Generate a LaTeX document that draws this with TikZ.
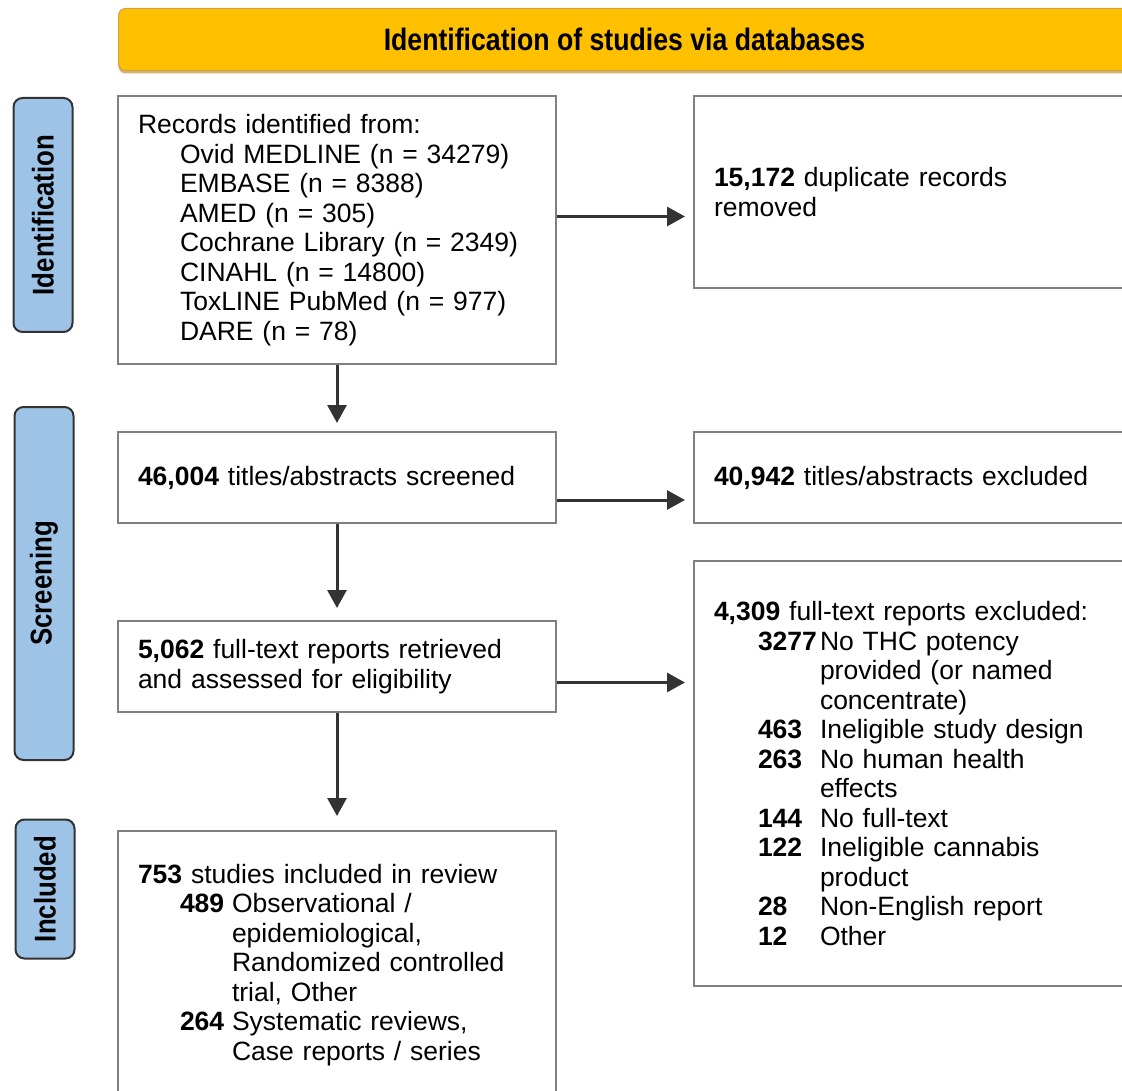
\documentclass[tikz,border=0pt]{standalone}
\usepackage{fontspec}
\setmainfont{Liberation Sans}
\newfontfamily\narrowfont[FakeStretch=0.86]{Liberation Sans}
\usetikzlibrary{arrows.meta, shadows}

\definecolor{bannerfill}{HTML}{FFC000}
\definecolor{bannershade}{HTML}{C9A24A}
\definecolor{stagefill}{HTML}{9DC3E6}
\definecolor{boxline}{HTML}{808080}
\definecolor{arrowline}{HTML}{333333}

\tikzset{
    box/.style={draw=boxline, line width=2pt, anchor=north west, align=left,
        inner xsep=20pt, inner ysep=0pt, font=\fontsize{26.5}{29.5}\selectfont},
    stage/.style={draw=black!80, line width=2pt, fill=stagefill, rounded corners=9pt,
        rotate=90, minimum height=59pt, inner sep=0pt,
        font=\narrowfont\bfseries\fontsize{30}{32}\selectfont},
    flow/.style={-{Triangle[length=18pt,width=19pt]}, line width=3pt, draw=arrowline, fill=black},
}

\begin{document}
\begin{tikzpicture}[x=1pt, y=-1pt]
        \useasboundingbox (0,0) rectangle (1122,1091);

        % Banner
        \node[draw=bannershade, line width=1pt, fill=bannerfill, rounded corners=7pt,
            anchor=north west, minimum width=1012pt, minimum height=62pt,
            drop shadow={shadow xshift=0pt, shadow yshift=-3pt, fill=bannershade, opacity=0.8},
            font=\narrowfont\bfseries\fontsize{31}{33}\selectfont] (banner) at (118,8)
            {Identification of studies via databases};

        % Stage labels
        \node[stage, minimum width=234pt] (idstage) at (43,215) {Identification};
        \node[stage, minimum width=353pt] (scrstage) at (44,583.5) {Screening};
        \node[stage, minimum width=139pt] (incstage) at (45,889) {Included};

        % Identification
        \node[box, text width=398pt, minimum height=268pt] (records) at (117,95)
            {Records identified from:\\
             \hspace*{42pt}Ovid MEDLINE (n = 34279)\\
             \hspace*{42pt}EMBASE (n = 8388)\\
             \hspace*{42pt}AMED (n = 305)\\
             \hspace*{42pt}Cochrane Library (n = 2349)\\
             \hspace*{42pt}CINAHL (n = 14800)\\
             \hspace*{42pt}ToxLINE PubMed (n = 977)\\
             \hspace*{42pt}DARE (n = 78)};
        \node[box, text width=398pt, minimum height=192pt] (dup) at (693,95)
            {\textbf{15,172} duplicate records\\removed};

        % Screening
        \node[box, text width=398pt, minimum height=91pt] (titles) at (117,431)
            {\textbf{46,004} titles/abstracts screened};
        \node[box, text width=398pt, minimum height=91pt] (titlesout) at (693,431)
            {\textbf{40,942} titles/abstracts excluded};
        \node[box, text width=398pt, minimum height=91pt] (fulltext) at (117,620)
            {\textbf{5,062} full-text reports retrieved\\and assessed for eligibility};
        \node[box, text width=398pt, minimum height=425pt] (fullout) at (693,560)
            {\textbf{4,309} full-text reports excluded:\\
             \hspace*{44pt}\makebox[62pt][l]{\textbf{3277}}No THC potency\\
             \hspace*{106pt}provided (or named\\
             \hspace*{106pt}concentrate)\\
             \hspace*{44pt}\makebox[62pt][l]{\textbf{463}}Ineligible study design\\
             \hspace*{44pt}\makebox[62pt][l]{\textbf{263}}No human health\\
             \hspace*{106pt}effects\\
             \hspace*{44pt}\makebox[62pt][l]{\textbf{144}}No full-text\\
             \hspace*{44pt}\makebox[62pt][l]{\textbf{122}}Ineligible cannabis\\
             \hspace*{106pt}product\\
             \hspace*{44pt}\makebox[62pt][l]{\textbf{28}}Non-English report\\
             \hspace*{44pt}\makebox[62pt][l]{\textbf{12}}Other};

        % Included
        \node[box, text width=398pt, minimum height=268pt] (included) at (117,830)
            {\textbf{753} studies included in review\\
             \hspace*{42pt}\makebox[52pt][l]{\textbf{489}}Observational /\\
             \hspace*{94pt}epidemiological,\\
             \hspace*{94pt}Randomized controlled\\
             \hspace*{94pt}trial, Other\\
             \hspace*{42pt}\makebox[52pt][l]{\textbf{264}}Systematic reviews,\\
             \hspace*{94pt}Case reports / series};

        % Arrows
        \draw[flow, shorten >=8pt] (records.south) -- (titles.north);
        \draw[flow, shorten >=12pt] (titles.south) -- (fulltext.north);
        \draw[flow, shorten >=14pt] (fulltext.south) -- (included.north);
        \draw[flow, shorten >=8pt] ([yshift=13.5pt]records.east) -- ([yshift=13.5pt]records.east -| dup.west);
        \draw[flow, shorten >=8pt] ([yshift=-22.5pt]titles.east) -- ([yshift=-22.5pt]titles.east -| titlesout.west);
        \draw[flow, shorten >=8pt] ([yshift=-16pt]fulltext.east) -- ([yshift=-16pt]fulltext.east -| fullout.west);
    \end{tikzpicture}
\end{document}
